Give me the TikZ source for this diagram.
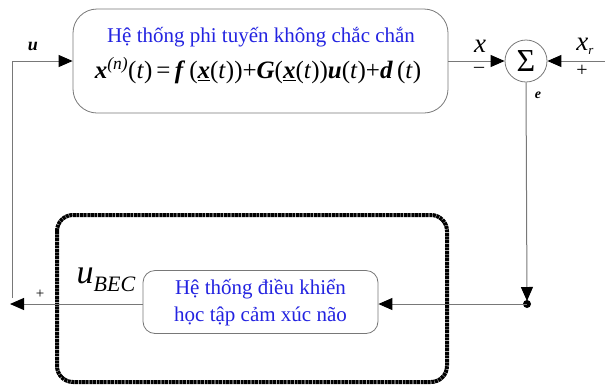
\documentclass[tikz,border=0pt]{standalone}
\usepackage{fontspec}
\setmainfont{Liberation Serif}
\usetikzlibrary{arrows.meta}
\definecolor{txtblue}{RGB}{35,35,225}
\definecolor{linegray}{RGB}{120,120,120}
\newcommand{\bi}[1]{\textbf{\textit{#1}}}
\begin{document}
\begin{tikzpicture}[x=1pt,y=-1pt,
  conn/.style={draw=linegray,line width=1pt},
  arr/.style={conn,-{Triangle[length=14pt,width=12pt,fill=black,color=black]}},
  blk/.style={draw=linegray,line width=0.8pt,fill=white,rounded corners=#1},
  lbl/.style={inner sep=0pt}]
\useasboundingbox (0,0) rectangle (605,384);
% dashed controller frame
\draw[line width=4pt,rounded corners=16pt,dash pattern=on 3pt off 0.6pt] (57,215) rectangle (447,382);
% top plant box
\node[blk=24pt,minimum width=375pt,minimum height=104pt] (plant) at (260.5,61) {};
\node[lbl,text=txtblue,font=\fontsize{21}{23}\selectfont] (ptitle) at (261,37) {Hệ thống phi tuyến không chắc chắn};
\node[lbl,font=\fontsize{25}{27}\selectfont] (peq) at (258,71) {\bi{x}\textsuperscript{\textit{(n)}}(\textit{t})\,=\,\bi{f}\,(\underline{\bi{x}}(\textit{t}))+\bi{G}(\underline{\bi{x}}(\textit{t}))\bi{u}(\textit{t})+\bi{d}\,(\textit{t})};
% summing junction
\node[draw=linegray,line width=0.8pt,circle,minimum size=42pt,inner sep=0pt,font=\fontsize{32}{34}\selectfont] (sum) at (526,61) {Σ};
\coordinate (xrin) at (605,61);
\coordinate (tap) at (527,304);
\fill (tap) circle (4pt);
% bottom controller box
\node[blk=12pt,minimum width=235pt,minimum height=63pt] (ctrl) at (260.5,302) {};
\node[lbl,text=txtblue,font=\fontsize{21}{27}\selectfont,align=center] (ctitle) at (260.5,303) {Hệ thống điều khiển\\học tập cảm xúc não};
\coordinate (outl) at (10,304);
\coordinate (corner) at (12,61);
% connectors
\draw[arr] (plant.east) -- (sum.west);
\draw[arr] (xrin) -- (sum.east);
\draw[arr] (sum.south) -- (527,301);
\draw[arr] (tap) -- (ctrl.east |- tap);
\draw[arr] (ctrl.west |- tap) -- (outl);
\draw[arr] (12,298) -- (corner) -- (plant.west |- corner);
% labels
\node[lbl,font=\fontsize{18}{19}\selectfont] (lu) at (33,46) {\bi{u}};
\node[lbl,font=\fontsize{27}{29}\selectfont] (lx) at (480,46) {\textit{x}};
\node[lbl,font=\fontsize{20}{22}\selectfont] (lminus) at (479,70) {--};
\node[lbl,font=\fontsize{27}{29}\selectfont] (lxr) at (585,46) {\textit{x}\raisebox{-4pt}{\fontsize{13}{14}\selectfont\textit{r}}};
\node[lbl,font=\fontsize{20}{22}\selectfont] (lplus) at (582,71) {+};
\node[lbl,font=\fontsize{14}{15}\selectfont] (le) at (538,95) {\bi{e}};
\node[lbl,font=\fontsize{15}{16}\selectfont] (lp2) at (40,294) {+};
\node[lbl,font=\fontsize{34}{36}\selectfont] (lubec) at (106,280) {\textit{u}\raisebox{-8pt}{\fontsize{22}{24}\selectfont\textit{BEC}}};
\end{tikzpicture}
\end{document}
